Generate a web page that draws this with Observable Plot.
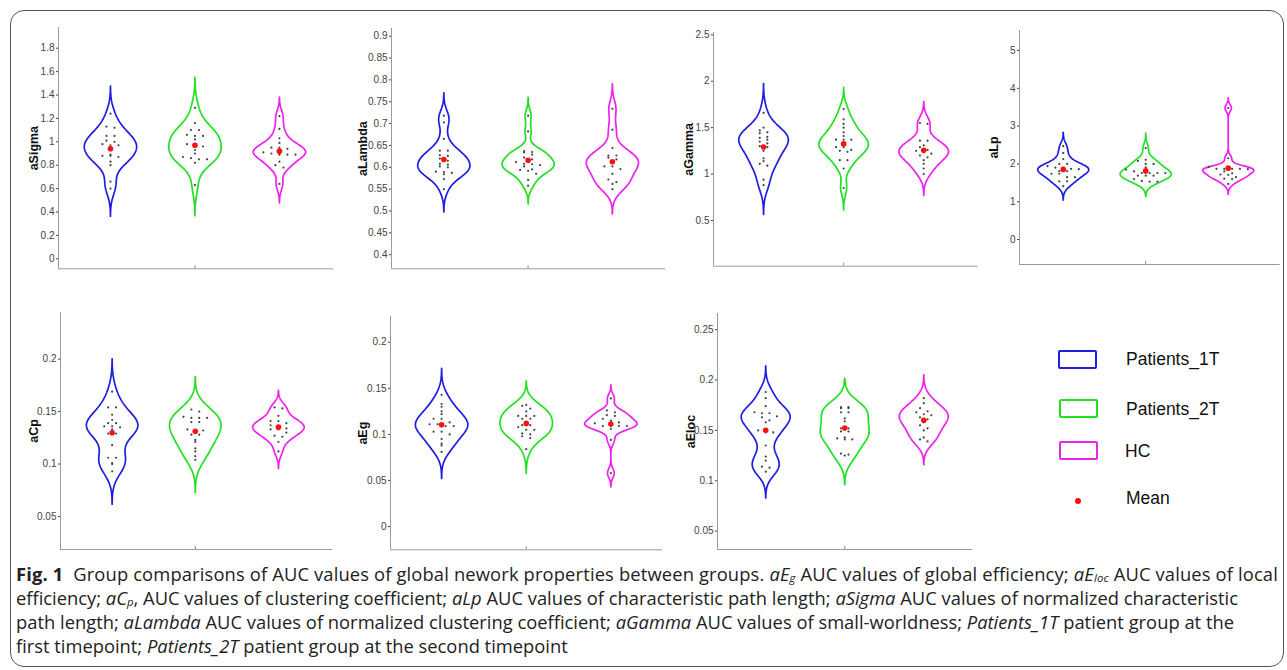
<!DOCTYPE html>
<html><head><meta charset="utf-8">
<script src="https://cdn.jsdelivr.net/npm/d3@7"></script>
<script src="https://cdn.jsdelivr.net/npm/@observablehq/plot@0.6"></script>
<style>
body{margin:0;background:#fff;}
#fig{position:relative;width:1287px;height:670px;overflow:hidden;font-family:"Liberation Sans",Arial,sans-serif;background:#fff;}
#frame{position:absolute;left:10px;top:10px;width:1274px;height:657px;border:1.5px solid #555;border-radius:14px;box-sizing:border-box;}
.panel{position:absolute;}
.lg-box{position:absolute;width:39px;height:19px;border:2px solid;border-radius:2px;box-sizing:border-box;}
.lg-txt{position:absolute;font-size:17.5px;color:#111;line-height:20px;white-space:nowrap;}
.cap{position:absolute;left:16px;font-family:"Open Sans",sans-serif;font-size:16px;color:#222;white-space:nowrap;line-height:24px;display:inline-block;}
.cap i{font-style:italic;}
.cap sub{font-size:62%;vertical-align:-1px;line-height:0;}
</style>
</head><body>
<div id="fig"><div id="frame"></div></div>
<script>
// ---------------- data ----------------
const groups = ["Patients_1T", "Patients_2T", "HC"];

const aSigma_1T = [1.24, 1.13, 1.12, 1.05, 1.05, 1.01, 1.00, 0.98, 0.97, 0.97, 0.95, 0.89, 0.88, 0.88, 0.87, 0.83, 0.80, 0.66, 0.60];
const aSigma_2T = [1.29, 1.16, 1.10, 1.10, 1.06, 1.05, 1.05, 1.02, 0.98, 0.96, 0.96, 0.93, 0.90, 0.87, 0.86, 0.85, 0.85, 0.82, 0.63];
const aSigma_HC = [1.22, 1.11, 1.03, 0.99, 0.95, 0.95, 0.94, 0.91, 0.90, 0.89, 0.89, 0.89, 0.83, 0.80, 0.78, 0.64];

const aLambda_1T = [0.718, 0.703, 0.665, 0.638, 0.638, 0.628, 0.626, 0.620, 0.615, 0.608, 0.606, 0.602, 0.600, 0.590, 0.589, 0.587, 0.584, 0.573, 0.550];
const aLambda_2T = [0.718, 0.682, 0.637, 0.635, 0.634, 0.629, 0.622, 0.618, 0.612, 0.608, 0.607, 0.605, 0.602, 0.595, 0.594, 0.592, 0.585, 0.571, 0.558];
const aLambda_HC = [0.734, 0.686, 0.644, 0.627, 0.627, 0.622, 0.618, 0.610, 0.602, 0.602, 0.596, 0.585, 0.572, 0.566, 0.562, 0.550];

const aGamma_1T = [1.66, 1.50, 1.47, 1.45, 1.44, 1.40, 1.39, 1.37, 1.35, 1.33, 1.30, 1.29, 1.25, 1.17, 1.14, 1.11, 1.09, 0.94, 0.88];
const aGamma_2T = [1.70, 1.59, 1.54, 1.50, 1.45, 1.41, 1.37, 1.37, 1.37, 1.33, 1.29, 1.29, 1.26, 1.25, 1.24, 1.15, 1.15, 1.06, 0.85];
const aGamma_HC = [1.55, 1.54, 1.36, 1.36, 1.31, 1.29, 1.26, 1.25, 1.25, 1.22, 1.20, 1.18, 1.15, 1.11, 1.06, 1.00];

const aLp_1T = [2.47, 2.29, 2.13, 2.00, 2.00, 1.94, 1.90, 1.89, 1.87, 1.86, 1.81, 1.81, 1.74, 1.74, 1.65, 1.65, 1.54, 1.54, 1.41];
const aLp_2T = [2.42, 2.11, 2.08, 2.00, 2.00, 1.91, 1.85, 1.80, 1.76, 1.76, 1.76, 1.76, 1.69, 1.69, 1.69, 1.60, 1.55, 1.53, 1.53];
const aLp_HC = [3.48, 2.15, 1.92, 1.87, 1.87, 1.87, 1.87, 1.86, 1.80, 1.75, 1.72, 1.71, 1.65, 1.61, 1.60, 1.47];

const aCp_1T = [0.169, 0.154, 0.154, 0.147, 0.142, 0.139, 0.139, 0.136, 0.136, 0.135, 0.133, 0.129, 0.129, 0.118, 0.106, 0.106, 0.101, 0.100, 0.093];
const aCp_2T = [0.152, 0.150, 0.145, 0.144, 0.144, 0.144, 0.140, 0.140, 0.133, 0.132, 0.132, 0.128, 0.128, 0.123, 0.121, 0.115, 0.112, 0.1075, 0.104];
const aCp_HC = [0.154, 0.153, 0.146, 0.141, 0.141, 0.139, 0.137, 0.136, 0.134, 0.133, 0.133, 0.130, 0.127, 0.126, 0.121, 0.112];

const aEg_1T = [0.143, 0.133, 0.130, 0.125, 0.122, 0.117, 0.117, 0.113, 0.111, 0.111, 0.109, 0.109, 0.103, 0.103, 0.100, 0.095, 0.090, 0.088, 0.081];
const aEg_2T = [0.132, 0.131, 0.128, 0.125, 0.120, 0.120, 0.120, 0.117, 0.117, 0.110, 0.110, 0.108, 0.105, 0.105, 0.101, 0.100, 0.098, 0.096, 0.084];
const aEg_HC = [0.139, 0.126, 0.124, 0.121, 0.120, 0.117, 0.115, 0.113, 0.112, 0.109, 0.109, 0.109, 0.109, 0.106, 0.094, 0.058];

const aEloc_1T = [0.188, 0.182, 0.174, 0.168, 0.167, 0.167, 0.164, 0.163, 0.160, 0.158, 0.150, 0.148, 0.148, 0.135, 0.124, 0.120, 0.114, 0.113, 0.109];
const aEloc_2T = [0.173, 0.173, 0.172, 0.172, 0.168, 0.168, 0.162, 0.159, 0.152, 0.152, 0.149, 0.149, 0.143, 0.142, 0.141, 0.141, 0.127, 0.126, 0.125];
const aEloc_HC = [0.182, 0.177, 0.172, 0.169, 0.168, 0.166, 0.165, 0.163, 0.161, 0.158, 0.155, 0.152, 0.150, 0.143, 0.141, 0.139];

const aSigmaTicks = [0, 0.2, 0.4, 0.6, 0.8, 1, 1.2, 1.4, 1.6, 1.8];
const aLambdaTicks = [0.4, 0.45, 0.5, 0.55, 0.6, 0.65, 0.7, 0.75, 0.8, 0.85, 0.9];
const aGammaTicks = [0.5, 1, 1.5, 2, 2.5];
const aLpTicks = [0, 1, 2, 3, 4, 5];
const aCpTicks = [0.05, 0.1, 0.15, 0.2];
const aEgTicks = [0, 0.05, 0.1, 0.15, 0.2];
const aElocTicks = [0.05, 0.1, 0.15, 0.2, 0.25];

// ---------------- styles / layout ----------------
const colors = ["#1e1ee0", "#22e022", "#ee22ee"];
const panels = [
  {label: "aSigma", series: [aSigma_1T, aSigma_2T, aSigma_HC], ticks: aSigmaTicks, y: [-0.0855, 1.977], x: [0.385, 3.64], box: [58, 333, 27, 268.3], labelDx: 25},
  {label: "aLambda", series: [aLambda_1T, aLambda_2T, aLambda_HC], ticks: aLambdaTicks, y: [0.3677, 0.9176], x: [0.379, 3.63], box: [391, 665, 28, 268.3], labelDx: 29},
  {label: "aGamma", series: [aGamma_1T, aGamma_2T, aGamma_HC], ticks: aGammaTicks, y: [0.0075, 2.525], x: [0.375, 3.68], box: [713.3, 978, 32, 265.7], labelDx: 25},
  {label: "aLp", series: [aLp_1T, aLp_2T, aLp_HC], ticks: aLpTicks, y: [-0.661, 5.53], x: [0.47, 3.63], box: [1019.3, 1280, 30, 264], labelDx: 26},
  {label: "aCp", series: [aCp_1T, aCp_2T, aCp_HC], ticks: aCpTicks, y: [0.0185, 0.2445], x: [0.379, 3.65], box: [60, 332, 312.3, 549.3], labelDx: 27},
  {label: "aEg", series: [aEg_1T, aEg_2T, aEg_HC], ticks: aEgTicks, y: [-0.0253, 0.228], x: [0.396, 3.61], box: [390, 662, 316, 549.3], labelDx: 28},
  {label: "aEloc", series: [aEloc_1T, aEloc_2T, aEloc_HC], ticks: aElocTicks, y: [0.0318, 0.266], x: [0.39, 3.62], box: [716.7, 972, 313.3, 549.3], labelDx: 27}
];

// kernel density outline (MATLAB ksdensity-like default bandwidth)
function violin(values, center, halfW, key) {
  const n = values.length;
  const med = d3.median(values);
  const mad = d3.median(values, v => Math.abs(v - med));
  const h = (mad / 0.6745) * Math.pow(4 / (3 * n), 0.2);
  const lo = d3.min(values) - 3 * h, hi = d3.max(values) + 3 * h;
  const m = 100;
  const ys = d3.range(m).map(i => lo + (hi - lo) * i / (m - 1));
  const dens = ys.map(y => d3.sum(values, v => Math.exp(-0.5 * ((y - v) / h) ** 2)));
  const mx = d3.max(dens);
  const right = ys.map((y, i) => ({key, x: center + halfW * dens[i] / mx, y}));
  const left = ys.map((y, i) => ({key, x: center - halfW * dens[i] / mx, y})).reverse();
  return [...right, ...left, right[0]];
}

// simple bin-based horizontal spread of the individual points
function spread(values, center, binW, step) {
  const out = [];
  const bins = d3.group(values, v => Math.round(v / binW));
  for (const [, vs] of bins) {
    const k = vs.length;
    vs.forEach((v, j) => out.push({x: center + (j - (k - 1) / 2) * step, y: v}));
  }
  return out;
}

const fig = document.getElementById("fig");
const ML = 60, MR = 6, MT = 6, MB = 8;

panels.forEach(p => {
  const [l, r, t, b] = p.box;
  const W = (r - l) + ML + MR, H = (b - t) + MT + MB;
  const span = p.y[1] - p.y[0];
  const outline = [], pts = [], means = [];
  p.series.forEach((vals, g) => {
    const c = g + 1;
    outline.push(...violin(vals, c, 0.31, groups[g]).map(d => ({...d, g})));
    pts.push(...spread(vals, c, span / 55, 0.095));
    means.push({x: c, y: d3.mean(vals)});
  });
  const chart = Plot.plot({
    width: W, height: H,
    marginLeft: ML, marginRight: MR, marginTop: MT, marginBottom: MB,
    x: {domain: p.x, axis: null},
    y: {domain: p.y, axis: null},
    style: {background: "transparent", overflow: "visible", fontFamily: "'Liberation Sans', Arial, sans-serif"},
    marks: [
      Plot.ruleX([p.x[0]], {stroke: "#9a9a9a", strokeWidth: 1}),
      Plot.ruleY([p.y[0]], {stroke: "#9a9a9a", strokeWidth: 1}),
      Plot.ruleX([2], {stroke: "#888", insetTop: (b - t) - 3}),
      Plot.axisY({ticks: p.ticks, label: null, tickSize: 2, tickPadding: 2, tickFormat: d => String(d), fontSize: 10, color: "#444"}),
      Plot.line(outline, {x: "x", y: "y", z: "key", stroke: d => colors[d.g], strokeWidth: 1.7, curve: "linear"}),
      Plot.dot(pts, {x: "x", y: "y", r: 1.1, fill: "#444", stroke: null}),
      Plot.dot(means, {x: "x", y: "y", r: 2.8, fill: "#ff1010", stroke: null}),
      Plot.text([p.label], {frameAnchor: "left", textAnchor: "middle", lineAnchor: "middle", dx: -p.labelDx, rotate: -90, fontWeight: "bold", fontSize: 12.5, fill: "#111"})
    ]
  });
  const div = document.createElement("div");
  div.className = "panel";
  div.style.left = (l - ML) + "px";
  div.style.top = (t - MT) + "px";
  div.style.width = W + "px";
  div.style.height = H + "px";
  div.appendChild(chart);
  fig.appendChild(div);
});

// ---------------- legend ----------------
const legendRows = [
  {name: groups[0], box: [1058, 350], text: [1126, 349]},
  {name: groups[1], box: [1059, 399], text: [1126, 399]},
  {name: groups[2], box: [1059, 441], text: [1125, 441]}
];
legendRows.forEach((row, i) => {
  const bx = document.createElement("div");
  bx.className = "lg-box";
  bx.style.left = row.box[0] + "px"; bx.style.top = row.box[1] + "px";
  bx.style.borderColor = colors[i];
  fig.appendChild(bx);
  const tx = document.createElement("div");
  tx.className = "lg-txt";
  tx.style.left = row.text[0] + "px"; tx.style.top = row.text[1] + "px";
  tx.textContent = row.name;
  fig.appendChild(tx);
});
const md = document.createElement("div");
md.style.cssText = "position:absolute;left:1075px;top:498px;width:6px;height:6px;border-radius:50%;background:#ff1010;";
fig.appendChild(md);
const mt = document.createElement("div");
mt.className = "lg-txt"; mt.style.left = "1126px"; mt.style.top = "488px"; mt.textContent = "Mean";
fig.appendChild(mt);

// ---------------- caption ----------------
const captionLines = [
  '<b>Fig. 1</b>&nbsp; Group comparisons of AUC values of global nework properties between groups. <i>aE<sub>g</sub></i> AUC values of global efficiency; <i>aE<sub>loc</sub></i> AUC values of local',
  'efficiency; <i>aC<sub>p</sub></i>, AUC values of clustering coefficient; <i>aLp</i> AUC values of characteristic path length; <i>aSigma</i> AUC values of normalized characteristic',
  'path length; <i>aLambda</i> AUC values of normalized clustering coefficient; <i>aGamma</i> AUC values of small-worldness; <i>Patients_1T</i> patient group at the',
  'first timepoint; <i>Patients_2T</i> patient group at the second timepoint'
];
const capTargets = [1262, 1222, 1218, null];
const capDivs = captionLines.map((html, i) => {
  const d = document.createElement("div");
  d.className = "cap";
  d.style.top = (562 + i * 24) + "px";
  d.innerHTML = html;
  fig.appendChild(d);
  return d;
});
// fit font size on the second line, then small letter-spacing tweaks
const base = capDivs[1].getBoundingClientRect().width;
const fs = 16 * capTargets[1] / base;
capDivs.forEach(d => d.style.fontSize = fs + "px");
capDivs.forEach((d, i) => {
  if (capTargets[i] == null) return;
  const w = d.getBoundingClientRect().width;
  const n = d.textContent.length;
  let ls = (capTargets[i] - w) / n;
  ls = Math.max(-0.35, Math.min(0.35, ls));
  d.style.letterSpacing = ls + "px";
});
</script>
</body></html>
